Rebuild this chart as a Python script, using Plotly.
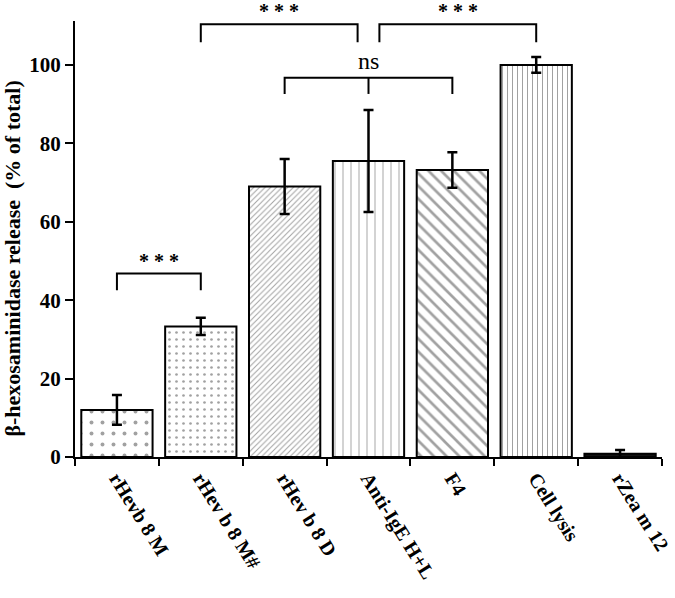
import plotly.graph_objects as go

# data
categories = ["rHevb 8 M", "rHev b 8 M#", "rHev b 8 D", "Anti-IgE H+L", "F4", "Cell lysis", "rZea m 12"]
release = [12.0, 33.3, 69.0, 75.5, 73.2, 100.0, 0.8]
release_err = [3.8, 2.2, 7.0, 13.0, 4.5, 2.0, 1.0]

# pattern per bar (shape, fg colour, size, solidity)
patterns = [".", ".", "/", "|", "\\", "|", ""]
pat_colors = ["#999", "#999", "#888", "#c8c8c8", "#9a9a9a", "#a0a0a0", "#111"]
pat_sizes = [11, 7, 4, 8, 9, 5, 8]
pat_solid = [0.1, 0.12, 0.25, 0.12, 0.3, 0.2, 0.3]
fill_colors = ["white"] * 6 + ["#111"]

font_family = "Liberation Serif, Times New Roman, serif"
y_max = 111.2

fig = go.Figure()
fig.add_trace(go.Bar(
    x=categories,
    y=release,
    marker=dict(
        color=fill_colors,
        line=dict(color="black", width=2),
        pattern=dict(shape=patterns, fgcolor=pat_colors, size=pat_sizes,
                     solidity=pat_solid, fillmode="overlay"),
    ),
    error_y=dict(type="data", array=release_err, color="black", thickness=2.5, width=5),
    showlegend=False,
))

# significance brackets: (x0, x1, y_line, y_tick, label, label_y, middle tick)
brackets = [
    (0, 1, 46.8, 42.5, "* * *", 50.0, None),
    (1, 2.87, 110.4, 105.8, "* * *", 113.8, None),
    (3.13, 5, 110.4, 105.8, "* * *", 113.8, None),
    (2, 4, 96.7, 92.6, "ns", 101.0, 3),
]
for x0, x1, yl, yt, lab, ly, mid in brackets:
    fig.add_trace(go.Scatter(x=[x0, x0, x1, x1], y=[yt, yl, yl, yt], mode="lines",
                             line=dict(color="black", width=2),
                             showlegend=False, hoverinfo="skip", xaxis="x2"))
    if mid is not None:
        fig.add_trace(go.Scatter(x=[mid, mid], y=[yl, yt], mode="lines",
                                 line=dict(color="black", width=2),
                                 showlegend=False, hoverinfo="skip", xaxis="x2"))
    is_ns = lab == "ns"
    fig.add_annotation(x=(x0 + x1) / 2, y=ly / y_max, xref="x2", yref="paper",
                       text=lab if is_ns else "<b>" + lab + "</b>",
                       showarrow=False, yanchor="middle",
                       font=dict(family=font_family, size=24 if is_ns else 20, color="black"))

# y title sits a bit below the middle of the axis in the original
fig.add_annotation(x=0, y=0.455, xref="paper", yref="paper", xshift=-62,
                   text="<b>β-hexosaminidase release  (% of total)</b>", textangle=-90,
                   showarrow=False, xanchor="center", yanchor="middle",
                   font=dict(family=font_family, size=22, color="black"))

fig.update_layout(
    width=675, height=598,
    margin=dict(l=75, r=13, t=21, b=141),
    plot_bgcolor="white", paper_bgcolor="white",
    bargap=0.15,
    font=dict(family=font_family, color="black"),
    xaxis=dict(
        type="category", tickangle=58, tickson="boundaries", automargin=False,
        showline=True, linecolor="black", linewidth=2,
        ticks="outside", ticklen=7, tickwidth=2, tickcolor="black",
        tickfont=dict(family=font_family, size=20, color="black", weight="bold"),
        range=[-0.5, 6.5],
    ),
    xaxis2=dict(overlaying="x", range=[-0.5, 6.5], visible=False),
    yaxis=dict(
        range=[0, y_max], tickvals=[0, 20, 40, 60, 80, 100], automargin=False,
        showline=True, linecolor="black", linewidth=2,
        ticks="outside", ticklen=8, tickwidth=2, tickcolor="black",
        showgrid=False, zeroline=False,
        tickfont=dict(family=font_family, size=21, color="black", weight="bold"),
    ),
)

# drop the default 8px body margin so the figure fills the window
fig.write_html("out.html", config={"displayModeBar": False},
               post_script="document.body.style.margin='0';")
